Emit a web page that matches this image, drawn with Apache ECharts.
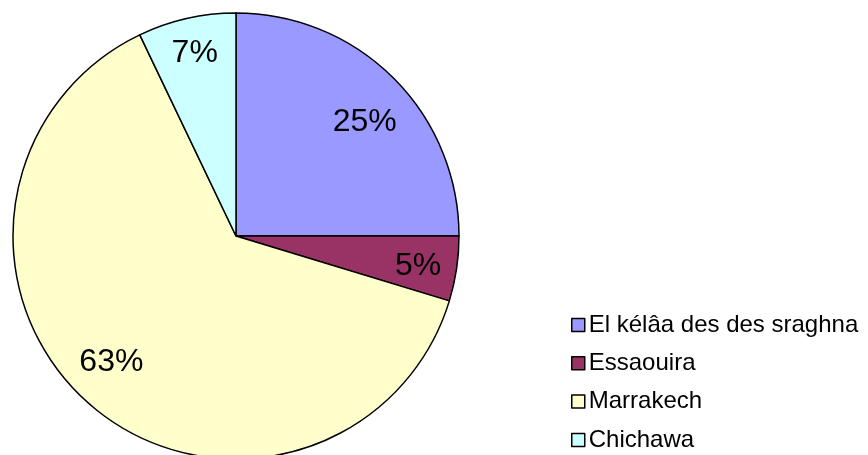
<!DOCTYPE html>
<html><head><meta charset="utf-8">
<script src="https://cdn.jsdelivr.net/npm/echarts@6/dist/echarts.min.js"></script>
<style>html,body{margin:0;padding:0;background:#fff}#c{width:868px;height:455px}</style>
</head><body><div id="c"></div>
<script>
const categories = ['El kélâa des des sraghna', 'Essaouira', 'Marrakech', 'Chichawa'];
const values = [25.0, 4.7, 63.2, 7.1];
const colors = ['#9999FF', '#993366', '#FFFFCC', '#CCFFFF'];
const labelNudge = [[0, 15], [2, 3], [-6, -12], [-1, -5]];

const chart = echarts.init(document.getElementById('c'));
const total = values.reduce((a, b) => a + b, 0);
const font = 'Liberation Sans, Arial, sans-serif';
chart.setOption({
  animation: false,
  legend: {
    orient: 'vertical', left: 571, top: 313, padding: 0,
    itemWidth: 13, itemHeight: 13, itemGap: 14.3,
    icon: 'rect',
    data: categories,
    itemStyle: { borderColor: '#000', borderWidth: 1.5 },
    textStyle: { fontFamily: font, fontSize: 24, color: '#000', padding: [0, 0, 0, -1] }
  },
  series: [{
    type: 'pie', center: [236, 236], radius: [0, 223], startAngle: 90, clockwise: true,
    label: { show: false }, labelLine: { show: false },
    itemStyle: { borderColor: '#000', borderWidth: 1.5 },
    emphasis: { disabled: true },
    data: categories.map((n, i) => ({ name: n, value: values[i], itemStyle: { color: colors[i] } }))
  }, {
    type: 'pie', center: [236, 236], radius: [135, 223], startAngle: 90, clockwise: true, silent: true,
    legendHoverLink: false,
    itemStyle: { color: 'transparent', borderWidth: 0 },
    label: { show: true, position: 'inside', fontFamily: font, fontSize: 32, color: '#000',
      formatter: p => Math.round(p.value / total * 100) + '%' },
    labelLayout: p => ({ dx: labelNudge[p.dataIndex][0], dy: labelNudge[p.dataIndex][1] }),
    labelLine: { show: false },
    data: values.map((v, i) => ({ name: 'lbl' + i, value: v }))
  }]
});
</script></body></html>
